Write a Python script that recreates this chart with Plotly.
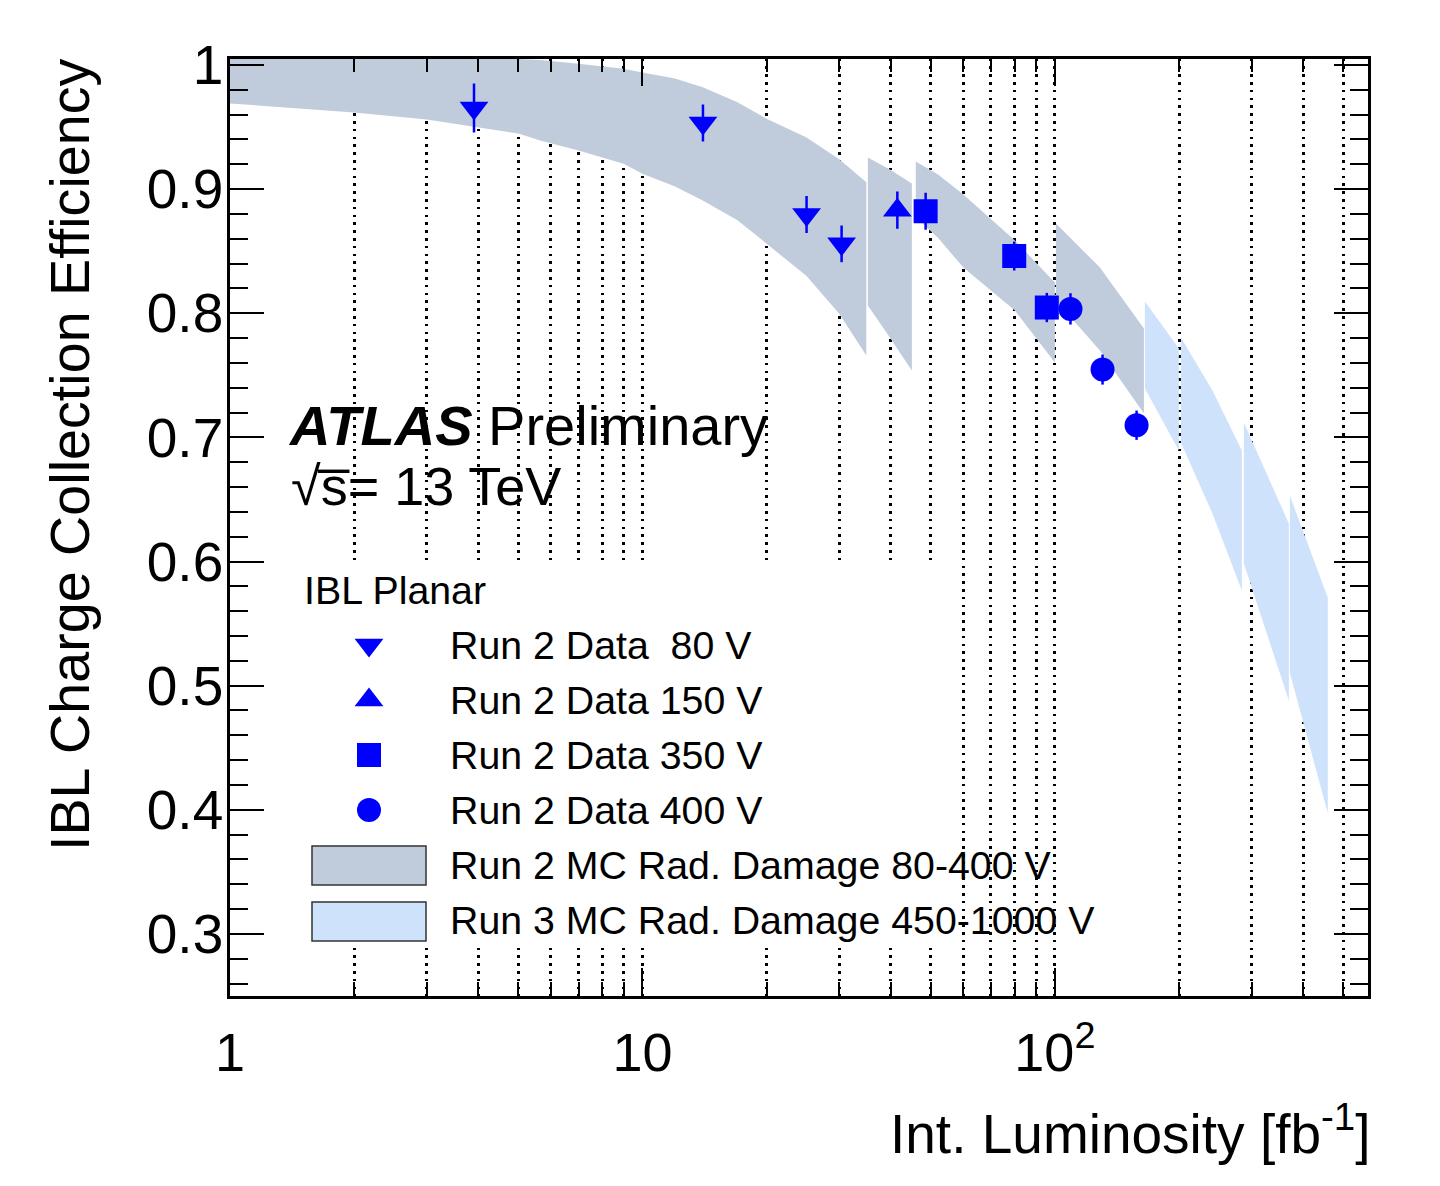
import plotly.graph_objects as go

# ---------------- data ----------------
lumi_80 = [3.905, 14.02, 25.0, 30.4]
eff_80 = [0.9653, 0.9533, 0.8795, 0.8559]
err_80 = [0.0197, 0.0149, 0.0149, 0.0148]

lumi_150 = [41.5]
eff_150 = [0.8830]
err_150 = [0.0150]

lumi_350 = [48.6, 79.7, 95.6]
eff_350 = [0.8821, 0.8461, 0.8046]
err_350 = [0.0149, 0.0117, 0.0118]

lumi_400 = [109.1, 130.5, 157.8]
eff_400 = [0.8035, 0.7546, 0.7098]
err_400 = [0.0126, 0.0121, 0.0118]

# Run 2 MC band segments (80-400 V)
mc2_a_lumi = [1, 2, 3, 4, 5, 5.65, 7, 9, 10, 12, 14, 17, 20, 25, 30, 34.9]
mc2_a_hi = [1.012, 1.010, 1.008, 1.006, 1.005, 1.004, 1.001, 0.997, 0.994, 0.989, 0.982, 0.970, 0.9566, 0.9416, 0.924, 0.9055]
mc2_a_lo = [0.969, 0.9617, 0.9561, 0.9496, 0.9448, 0.9392, 0.9311, 0.9204, 0.9123, 0.902, 0.8908, 0.875, 0.856, 0.830, 0.7995, 0.7659]

mc2_b_lumi = [35.2, 39.8, 45.0]
mc2_b_hi = [0.9255, 0.9158, 0.9045]
mc2_b_lo = [0.8062, 0.7804, 0.7538]

mc2_c_lumi = [46.0, 52.0, 60.0, 80.0, 100.0]
mc2_c_hi = [0.9222, 0.912, 0.8957, 0.8586, 0.8247]
mc2_c_lo = [0.8771, 0.861, 0.8368, 0.8022, 0.7603]

mc2_d_lumi = [100.6, 128.6, 164.4]
mc2_d_hi = [0.8723, 0.8368, 0.7877]
mc2_d_lo = [0.8103, 0.7700, 0.7192]

# Run 3 MC band segments (450-1000 V)
mc3_e_lumi = [165.3, 199.8]
mc3_e_hi = [0.8094, 0.7716]
mc3_e_lo = [0.7393, 0.6894]

mc3_f_lumi = [202.1, 241.0, 284.0]
mc3_f_hi = [0.7804, 0.7377, 0.6894]
mc3_f_lo = [0.6958, 0.6386, 0.5766]

mc3_g_lumi = [287.2, 369.3]
mc3_g_hi = [0.7119, 0.6305]
mc3_g_lo = [0.5983, 0.4879]

mc3_h_lumi = [371.3, 459.0]
mc3_h_hi = [0.6531, 0.5709]
mc3_h_lo = [0.5101, 0.3973]

y_tickvals = [0.3, 0.4, 0.5, 0.6, 0.7, 0.8, 0.9, 1.0]
y_ticktext = ["0.3", "0.4", "0.5", "0.6", "0.7", "0.8", "0.9", "1"]
x_tickvals = [1, 10, 100]
x_ticktext = ["1", "10", "10<sup>2</sup>"]

legend_labels = ["Run 2 Data\u00a0\u00a080 V", "Run 2 Data 150 V", "Run 2 Data 350 V",
                 "Run 2 Data 400 V", "Run 2 MC Rad. Damage 80-400 V",
                 "Run 3 MC Rad. Damage 450-1000 V"]

# ---------------- style ----------------
PAGE_W, PAGE_H = 1440, 1186
OFF = 8                      # default page margin of the html body
W, H = PAGE_W - OFF, PAGE_H - OFF
FONT = "Liberation Sans, Arial, Helvetica, sans-serif"
C_RUN2 = "rgb(192,204,220)"
C_RUN3 = "rgb(207,226,252)"
BLUE = "#0000ff"

fig = go.Figure()


def band(lumi, hi, lo, color):
    fig.add_trace(go.Scatter(
        x=list(lumi) + list(lumi)[::-1],
        y=list(hi) + list(lo)[::-1],
        fill="toself", fillcolor=color, mode="lines",
        line=dict(width=0, color=color),
        hoverinfo="skip", showlegend=False,
        xaxis="x", yaxis="y"))


for seg in [(mc2_a_lumi, mc2_a_hi, mc2_a_lo), (mc2_b_lumi, mc2_b_hi, mc2_b_lo),
            (mc2_c_lumi, mc2_c_hi, mc2_c_lo), (mc2_d_lumi, mc2_d_hi, mc2_d_lo)]:
    band(*seg, C_RUN2)
for seg in [(mc3_e_lumi, mc3_e_hi, mc3_e_lo), (mc3_f_lumi, mc3_f_hi, mc3_f_lo),
            (mc3_g_lumi, mc3_g_hi, mc3_g_lo), (mc3_h_lumi, mc3_h_hi, mc3_h_lo)]:
    band(*seg, C_RUN3)

series = [
    (lumi_80, eff_80, err_80, "triangle-down", 25),
    (lumi_150, eff_150, err_150, "triangle-up", 25),
    (lumi_350, eff_350, err_350, "square", 24),
    (lumi_400, eff_400, err_400, "circle", 24),
]
for lx, ey, ee, sym, sz in series:
    fig.add_trace(go.Scatter(
        x=lx, y=ey, mode="markers",
        marker=dict(symbol=sym, size=sz, color=BLUE, line=dict(width=0)),
        error_y=dict(type="data", array=ee, visible=True, color=BLUE, thickness=2.5, width=0),
        showlegend=False, xaxis="x", yaxis="y"))

# ---------------- custom legend (helper axes in page pixels) ----------------
leg_marker_x = 369
leg_rows_y = [645, 700, 755, 810, 865, 920]
for (lx, ey, ee, sym, sz), ry in zip(series, leg_rows_y[:4]):
    fig.add_trace(go.Scatter(
        x=[leg_marker_x], y=[ry], mode="markers",
        marker=dict(symbol=sym, size=sz, color=BLUE, line=dict(width=0)),
        showlegend=False, hoverinfo="skip", xaxis="x3", yaxis="y3"))

shapes = [
    dict(type="rect", xref="x3", yref="y3", x0=300, x1=947, y0=562, y1=948,
         fillcolor="white", line=dict(width=0), layer="below"),
    dict(type="rect", xref="x3", yref="y3", x0=312, x1=426, y0=846, y1=885,
         fillcolor=C_RUN2, line=dict(width=1.5, color="#333333"), layer="below"),
    dict(type="rect", xref="x3", yref="y3", x0=312, x1=426, y0=902, y1=941,
         fillcolor=C_RUN3, line=dict(width=1.5, color="#333333"), layer="below"),
]

LEG_SIZE = 39.3
annotations = []
annotations.append(dict(text="IBL Planar", x=302, y=590, xref="x3", yref="y3",
                        xanchor="left", yanchor="middle", showarrow=False,
                        font=dict(family=FONT, size=LEG_SIZE, color="black")))
for lab, ry in zip(legend_labels, leg_rows_y):
    annotations.append(dict(text=lab, x=448, y=ry, xref="x3", yref="y3",
                            xanchor="left", yanchor="middle", showarrow=False,
                            font=dict(family=FONT, size=LEG_SIZE, color="black")))

annotations.append(dict(text="<b><i>ATLAS</i></b> Preliminary", x=286, y=425, xref="x3", yref="y3",
                        xanchor="left", yanchor="middle", showarrow=False,
                        font=dict(family=FONT, size=56, color="black")))
annotations.append(dict(text="\u221as\u0305= 13 TeV", x=289, y=486, xref="x3", yref="y3",
                        xanchor="left", yanchor="middle", showarrow=False,
                        font=dict(family=FONT, size=54, color="black")))

# axis titles
annotations.append(dict(text="IBL Charge Collection Efficiency", x=70, y=455, xref="x3", yref="y3",
                        xanchor="center", yanchor="middle", textangle=-90, showarrow=False,
                        font=dict(family=FONT, size=55.7, color="black")))
annotations.append(dict(text="Int. Luminosity [fb<sup>-1</sup>]", x=1373, y=1130, xref="x3", yref="y3",
                        xanchor="right", yanchor="middle", showarrow=False,
                        font=dict(family=FONT, size=55, color="black")))

x_dom = [(230 - OFF) / W, (1367.5 - OFF) / W]
y_dom = [1 - (996 - OFF) / H, 1 - (58.5 - OFF) / H]

fig.update_layout(
    width=W, height=H,
    margin=dict(l=0, r=0, t=0, b=0, pad=0, autoexpand=False),
    paper_bgcolor="white", plot_bgcolor="rgba(0,0,0,0)",
    showlegend=False,
    font=dict(family=FONT, color="black"),
    xaxis=dict(
        type="log", range=[0, 2.758], domain=x_dom, anchor="y", automargin=False,
        showline=True, linecolor="black", linewidth=2.5, mirror="ticks",
        ticks="inside", ticklen=28, tickwidth=2.2, tickcolor="black",
        tickmode="array", tickvals=x_tickvals, ticktext=x_ticktext,
        tickfont=dict(family=FONT, size=54, color="black"),
        ticklabelstandoff=7,
        showgrid=True, gridcolor="black", gridwidth=2.6, griddash="2.6px,5.2px",
        zeroline=False,
        minor=dict(ticks="inside", ticklen=14, tickwidth=2.2, tickcolor="black", dtick="D1",
                   showgrid=True, gridcolor="black", gridwidth=2.6, griddash="2.6px,5.2px"),
    ),
    yaxis=dict(
        range=[0.25, 1.0052], domain=y_dom, anchor="x", automargin=False,
        showline=True, linecolor="black", linewidth=2.5, mirror="ticks",
        ticks="inside", ticklen=34, tickwidth=2.2, tickcolor="black",
        tickmode="array", tickvals=y_tickvals, ticktext=y_ticktext,
        tickfont=dict(family=FONT, size=55, color="black"),
        ticklabelstandoff=-7,
        showgrid=False, zeroline=False,
        minor=dict(ticks="inside", ticklen=18, tickwidth=2.2, tickcolor="black", dtick=0.02,
                   tick0=0, showgrid=False),
    ),
    # helper axes: coordinates are page pixels (page has an 8px body margin)
    xaxis3=dict(domain=[0, 1], range=[OFF, PAGE_W], anchor="y3", visible=False, fixedrange=True,
                automargin=False),
    yaxis3=dict(domain=[0, 1], range=[PAGE_H, OFF], anchor="x3", visible=False, fixedrange=True,
                automargin=False),
    shapes=shapes,
    annotations=annotations,
)

fig.write_html("out.html")
